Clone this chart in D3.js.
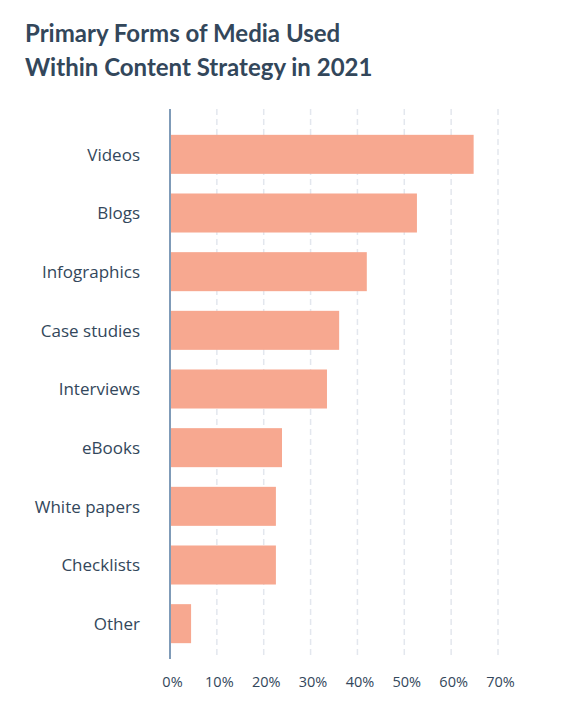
<!DOCTYPE html>
<html>
<head>
<meta charset="utf-8">
<script src="https://cdn.jsdelivr.net/npm/d3@7"></script>
<style>
  body { margin: 0; background: #fff; }
  svg { display: block; font-family: "Open Sans", Lato, sans-serif; }
</style>
</head>
<body>
<svg id="chart" width="565" height="717"></svg>
<script>
// data
const categories = ["Videos", "Blogs", "Infographics", "Case studies", "Interviews",
                    "eBooks", "White papers", "Checklists", "Other"];
const values = [64.8, 52.7, 42.0, 36.1, 33.5, 23.9, 22.6, 22.6, 4.5];
const ticks = [0, 10, 20, 30, 40, 50, 60, 70];
const titleLines = ["Primary Forms of Media Used", "Within Content Strategy in 2021"];

const textColor = "#33475b";
const barColor = "#f7a890";

const svg = d3.select("#chart");

const x = d3.scaleLinear()
  .domain([0, 70])
  .range([170, 498]);

const y = d3.scaleBand()
  .domain(categories)
  .range([125, 653])
  .paddingInner(0.335)
  .paddingOuter(0.1675);

const gridTop = 109, gridBottom = 659;

// title
svg.append("g")
  .selectAll("text")
  .data(titleLines)
  .enter().append("text")
  .attr("x", 25)
  .attr("y", (d, i) => 42 + i * 34)
  .attr("fill", textColor)
  .attr("font-size", 24)
  .attr("font-weight", 700)
  .attr("font-family", "Lato, sans-serif")
  .text(d => d);

// dashed grid lines
svg.append("g")
  .selectAll("line")
  .data(ticks.slice(1))
  .enter().append("line")
  .attr("x1", d => x(d))
  .attr("x2", d => x(d))
  .attr("y1", gridTop)
  .attr("y2", gridBottom)
  .attr("stroke", "#e3e7ee")
  .attr("stroke-width", 1.5)
  .attr("stroke-dasharray", "6,4");

// bars
svg.append("g")
  .selectAll("rect")
  .data(categories)
  .enter().append("rect")
  .attr("x", x(0))
  .attr("y", d => y(d))
  .attr("width", (d, i) => x(values[i]) - x(0))
  .attr("height", y.bandwidth())
  .attr("fill", barColor);

// baseline
svg.append("line")
  .attr("x1", x(0))
  .attr("x2", x(0))
  .attr("y1", gridTop)
  .attr("y2", gridBottom)
  .attr("stroke", "#7f9bb8")
  .attr("stroke-width", 2);

// category labels
const yAxis = d3.axisLeft(y).tickSize(0).tickPadding(0);
svg.append("g")
  .attr("transform", "translate(140,1)")
  .call(yAxis)
  .call(g => g.select(".domain").remove())
  .selectAll("text")
  .attr("fill", textColor)
  .attr("font-size", 17)
  .attr("font-family", "'Open Sans', sans-serif");

// x tick labels
const xAxis = d3.axisBottom(x)
  .tickValues(ticks)
  .tickSize(0)
  .tickPadding(0)
  .tickFormat(d => d + "%");
svg.append("g")
  .attr("transform", "translate(2,677)")
  .call(xAxis)
  .call(g => g.select(".domain").remove())
  .selectAll("text")
  .attr("fill", textColor)
  .attr("font-size", 14.5)
  .attr("font-family", "'Open Sans', sans-serif");
</script>
</body>
</html>
